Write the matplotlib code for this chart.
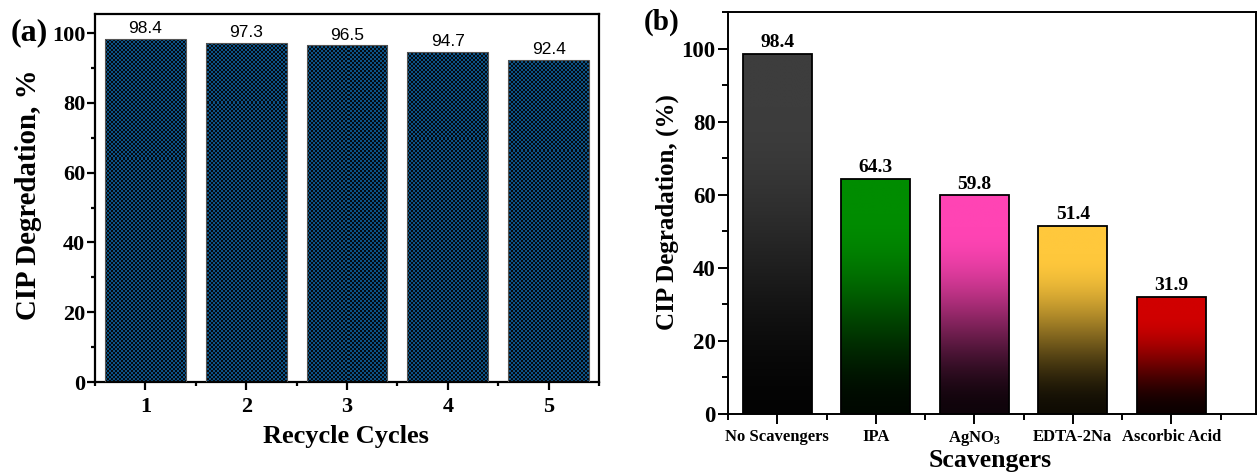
"""Recycle stability and scavenger test bar charts for CIP degradation."""

import matplotlib

matplotlib.use("Agg")
import matplotlib.pyplot as plt
import numpy as np
from matplotlib.colors import to_rgb
from matplotlib.ticker import MultipleLocator

plt.rcParams["font.family"] = ["Liberation Serif", "DejaVu Serif"]
plt.rcParams["font.weight"] = "bold"
plt.rcParams["mathtext.fontset"] = "custom"
plt.rcParams["mathtext.rm"] = "Liberation Serif:bold"
plt.rcParams["mathtext.bf"] = "Liberation Serif:bold"
plt.rcParams["mathtext.default"] = "rm"

# data
cycles = [1, 2, 3, 4, 5]
cycle_labels = ["1", "2", "3", "4", "5"]
recycle_values = [98.4, 97.3, 96.5, 94.7, 92.4]

scavengers = ["No Scavengers", "IPA", "AgNO$_3$", "EDTA-2Na", "Ascorbic Acid"]
scavenger_values = [98.4, 64.3, 59.8, 51.4, 31.9]
scavenger_colors = ["#3d3d3d", "#008c00", "#ff44b4", "#ffc83c", "#d00000"]

W, H = 1259, 474
fig = plt.figure(figsize=(W / 100, H / 100), dpi=100)


def px_axes(left, top, right, bottom):
    return fig.add_axes([left / W, 1 - bottom / H, (right - left) / W, (bottom - top) / H])


def style_axes(ax, lw):
    for sp in ax.spines.values():
        sp.set_linewidth(lw)
    ax.tick_params(which="both", direction="out", top=False, right=False, width=lw)


# ---------------- (a) recycle cycles ----------------
ax1 = px_axes(95, 14, 599, 382)
bars1 = ax1.bar(cycles, recycle_values, width=0.8, facecolor="none",
                edgecolor="#555555", linewidth=0.8, zorder=3)

# small checkerboard texture like the original pattern fill
ny, nx = 184, 252
checker = (np.add.outer(np.arange(ny), np.arange(nx)) % 2).astype(float)
tex = np.empty((ny, nx, 3))
tex[checker == 1] = to_rgb("#0c5285")
tex[checker == 0] = to_rgb("#040a10")
for b in bars1:
    im = ax1.imshow(tex, extent=[0.5, 5.5, 0, 105.5], aspect="auto",
                    interpolation="nearest", zorder=2)
    im.set_clip_path(b)
for x, v in zip(cycles, recycle_values):
    ax1.text(x, v + 0.8, f"{v}", ha="center", va="bottom", fontsize=12.5,
             family="Liberation Sans", weight="normal")
ax1.set_xlim(0.5, 5.5)
ax1.set_ylim(0, 105.5)

style_axes(ax1, 1.6)
ax1.set_xticks(cycles)
ax1.set_xticklabels(cycle_labels)
ax1.xaxis.set_minor_locator(MultipleLocator(0.5))
ax1.yaxis.set_major_locator(MultipleLocator(20))
ax1.yaxis.set_minor_locator(MultipleLocator(10))
ax1.tick_params(axis="both", which="major", length=6, labelsize=16)
ax1.tick_params(axis="both", which="minor", length=3)
ax1.tick_params(axis="y", which="major", pad=1)
ax1.tick_params(axis="x", which="major", pad=5)

fig.text(29 / W, 1 - 195 / H, "CIP Degredation, %", rotation=90,
         ha="center", va="center", fontsize=20.8)
fig.text(346 / W, 1 - 437 / H, "Recycle Cycles", ha="center", va="center", fontsize=19)
fig.text(29 / W, 1 - 33 / H, "(a)", ha="center", va="center", fontsize=23)

# ---------------- (b) scavengers ----------------
ax2 = px_axes(728, 12, 1256, 414)
pos = np.arange(len(scavengers))
bars2 = ax2.bar(pos, scavenger_values, width=0.7, facecolor="none",
                edgecolor="black", linewidth=1.3, zorder=3)
for b, c in zip(bars2, scavenger_colors):
    top = np.array(to_rgb(c))
    t = np.linspace(0, 1, 300)
    # solid colour near the top, fading smoothly towards black at the base
    f = np.clip((t - 0.15) / 0.85, 0, 1)
    f = f * f * (3 - 2 * f)
    k = (1 - f) + f * 0.06
    grad = (top[None, :] * k[:, None])[:, None, :]
    x0, h, w = b.get_x(), b.get_height(), b.get_width()
    im = ax2.imshow(grad, extent=[x0, x0 + w, 0, h], aspect="auto",
                    interpolation="bilinear", zorder=2)
    im.set_clip_path(b)
for x, v in zip(pos, scavenger_values):
    ax2.text(x, v + 0.8, f"{v}", ha="center", va="bottom", fontsize=14)
ax2.set_xlim(-0.5, 4.86)
ax2.set_ylim(0, 110)

style_axes(ax2, 1.4)
ax2.set_xticks(pos)
ax2.set_xticklabels(scavengers)
ax2.xaxis.set_minor_locator(MultipleLocator(0.5))
ax2.yaxis.set_major_locator(MultipleLocator(20))
ax2.yaxis.set_minor_locator(MultipleLocator(10))
ax2.tick_params(axis="both", which="major", length=7)
ax2.tick_params(axis="both", which="minor", length=4)
ax2.tick_params(axis="y", which="major", labelsize=16.5, pad=2)
ax2.tick_params(axis="x", which="major", labelsize=12, pad=4)

fig.text(667 / W, 1 - 212 / H, "CIP Degradation, (%)", rotation=90,
         ha="center", va="center", fontsize=18)
fig.text(990 / W, 1 - 461 / H, "Scavengers", ha="center", va="center", fontsize=18.5)
fig.text(662 / W, 1 - 22 / H, "(b)", ha="center", va="center", fontsize=21)

fig.savefig("out.png", dpi=100)
